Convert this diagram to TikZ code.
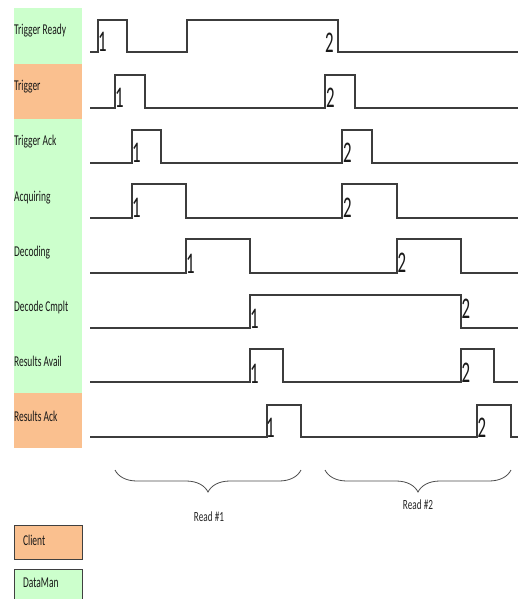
\documentclass[tikz,border=0pt]{standalone}
\usepackage{fontspec}
\setmainfont{Carlito}
\usetikzlibrary{decorations.pathreplacing}
\definecolor{dmgreen}{RGB}{204,255,204}
\definecolor{clorange}{RGB}{250,192,143}
\definecolor{wave}{RGB}{60,60,60}
\begin{document}
\begin{tikzpicture}[x=1pt,y=-1pt,
  sig/.style={draw=wave, line width=1.4pt, line join=miter},
  lbl/.style={anchor=base west, inner sep=0, font=\fontsize{15}{15}\selectfont, xscale=0.63, text=black!90},
  num/.style={anchor=base west, inner sep=0, font=\fontsize{30}{30}\selectfont, xscale=0.56, text=black!90},
  rd/.style={anchor=base, inner sep=0, font=\fontsize{14}{14}\selectfont, xscale=0.66, text=black!85},
  brc/.style={draw=black!70, line width=0.8pt, decorate, decoration={brace, mirror, amplitude=22pt}},
]
\useasboundingbox (0,0) rectangle (519,599);
% label column backgrounds
\fill[dmgreen] (14,8) rectangle (82,448);
\fill[clorange] (14,64) rectangle (82,119);
\fill[clorange] (14,393) rectangle (82,448);
% labels
\node[lbl] (l1) at (14,35) {Trigger Ready};
\node[lbl] (l2) at (14,91) {Trigger};
\node[lbl] (l3) at (14,146) {Trigger Ack};
\node[lbl] (l4) at (14,201) {Acquiring};
\node[lbl] (l5) at (14,256) {Decoding};
\node[lbl] (l6) at (14,311) {Decode Cmplt};
\node[lbl] (l7) at (14,366) {Results Avail};
\node[lbl] (l8) at (14,421) {Results Ack};
% waveforms
\draw[sig] (90,52)--(98,52)--(98,20)--(127,20)--(127,52)--(187,52)--(187,20)--(338,20)--(338,52)--(518,52);
\draw[sig] (90,108)--(115,108)--(115,75)--(145,75)--(145,108)--(325,108)--(325,75)--(355,75)--(355,108)--(518,108);
\draw[sig] (90,163)--(132,163)--(132,130)--(161,130)--(161,163)--(342,163)--(342,130)--(372,130)--(372,163)--(518,163);
\draw[sig] (90,218)--(132,218)--(132,184)--(186,184)--(186,218)--(342,218)--(342,184)--(397,184)--(397,218)--(518,218);
\draw[sig] (90,273)--(186,273)--(186,239)--(250,239)--(250,273)--(397,273)--(397,239)--(461,239)--(461,273)--(518,273);
\draw[sig] (90,328)--(250,328)--(250,295)--(461,295)--(461,328)--(518,328);
\draw[sig] (90,382)--(250,382)--(250,349)--(283,349)--(283,382)--(461,382)--(461,349)--(494,349)--(494,382)--(518,382);
\draw[sig] (90,437)--(267,437)--(267,405)--(301,405)--(301,437)--(477,437)--(477,405)--(511,405)--(511,437)--(518,437);
% edge numbers
\node[num] (n11) at (98,52) {1};
\node[num] (n12) at (325,53) {2};
\node[num] (n21) at (115,107) {1};
\node[num] (n22) at (326,108) {2};
\node[num] (n31) at (132,162) {1};
\node[num] (n32) at (343,162) {2};
\node[num] (n41) at (132,217) {1};
\node[num] (n42) at (343,217) {2};
\node[num] (n51) at (186,273) {1};
\node[num] (n52) at (397.5,272) {2};
\node[num] (n61) at (250,328) {1};
\node[num] (n62) at (461.5,318) {2};
\node[num] (n71) at (250,383) {1};
\node[num] (n72) at (461.5,382) {2};
\node[num] (n81) at (266,437) {1};
\node[num] (n82) at (477.5,437) {2};
% braces
\coordinate (b1s) at (115,470);
\coordinate (b1e) at (301,470);
\coordinate (b2s) at (325,470);
\coordinate (b2e) at (511,470);
\draw[brc] (b1s) -- (b1e);
\draw[brc] (b2s) -- (b2e);
\node[rd] (r1) at (209,521) {Read \#1};
\node[rd] (r2) at (418,509) {Read \#2};
% legend
\fill[clorange] (14,525) rectangle (82,559);
\draw[black!75, line width=1pt] (14,525) rectangle (82,559);
\node[lbl] (lc) at (23,545) {Client};
\fill[dmgreen] (14,569) rectangle (82,599);
\draw[black!75, line width=1pt] (14,600) -- (14,569) -- (82,569) -- (82,600);
\node[lbl] (ld) at (23,587) {DataMan};
\end{tikzpicture}
\end{document}
